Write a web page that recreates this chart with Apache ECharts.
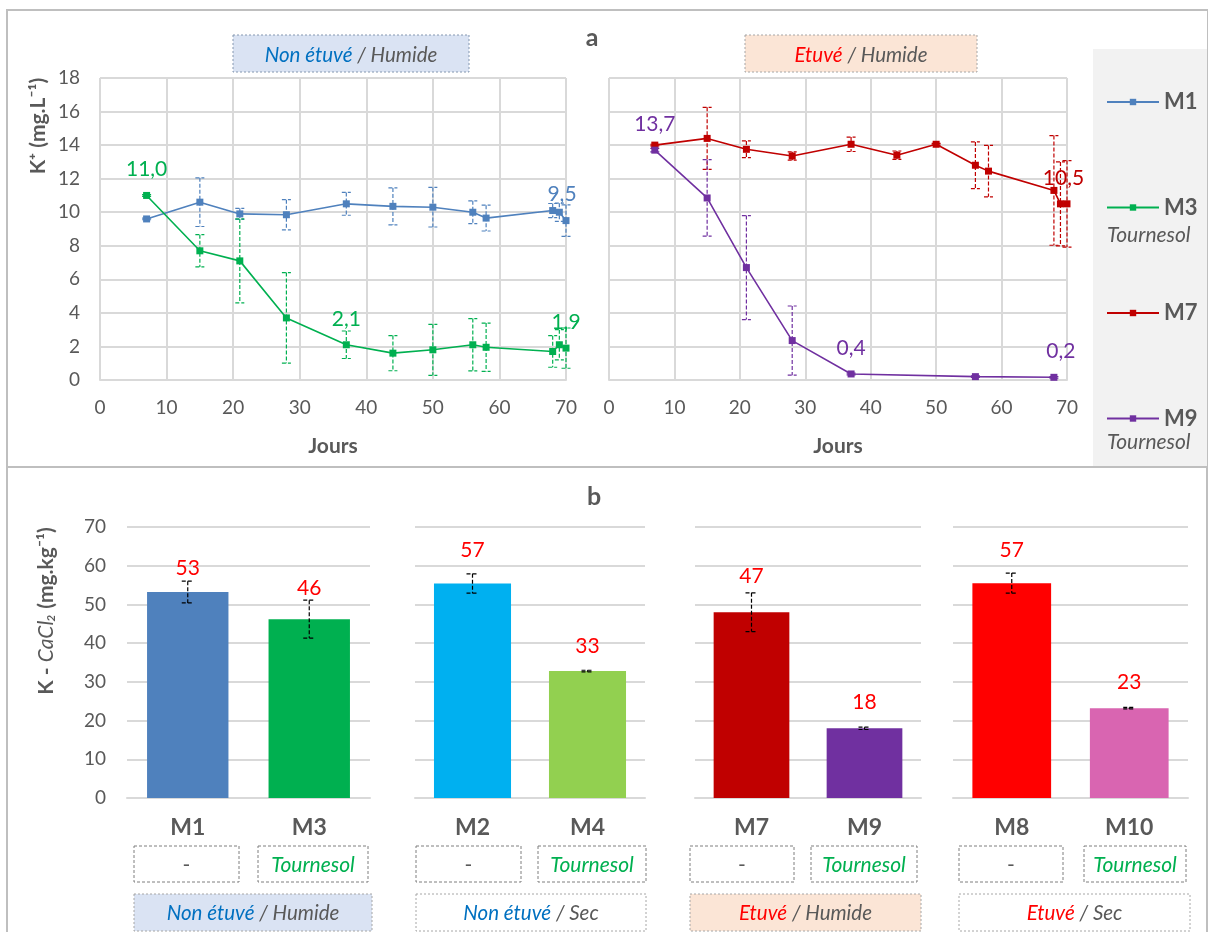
<!DOCTYPE html>
<html>
<head>
<meta charset="utf-8">
<script src="https://cdn.jsdelivr.net/npm/echarts@6/dist/echarts.min.js"></script>
<style>
html,body{margin:0;padding:0;background:#fff;}
#chart{width:1208px;height:932px;}
</style>
</head>
<body>
<div id="chart"></div>
<script>
// ---------- DATA ----------
// Panel a: K+ (mg.L-1) vs days
const daysM1 = [7, 15, 21, 28, 37, 44, 50, 56, 58, 68, 69, 70];
const m1 = [9.6, 10.6, 9.9, 9.85, 10.5, 10.35, 10.3, 10.0, 9.65, 10.1, 10.0, 9.5];
const m1Err = [0.05, 1.45, 0.33, 0.9, 0.68, 1.1, 1.18, 0.68, 0.77, 0.42, 0.54, 0.94];
const m1Labeled = [11];

const daysM3 = [7, 15, 21, 28, 37, 44, 50, 56, 58, 68, 69, 70];
const m3 = [11.0, 7.7, 7.1, 3.7, 2.1, 1.6, 1.8, 2.1, 1.95, 1.7, 2.1, 1.9];
const m3Err = [0.05, 0.96, 2.5, 2.7, 0.82, 1.05, 1.52, 1.56, 1.44, 0.94, 0.9, 1.2];
const m3Labeled = [0, 4, 11];

const daysM7 = [7, 15, 21, 28, 37, 44, 50, 56, 58, 68, 69, 70];
const m7 = [14.0, 14.4, 13.75, 13.35, 14.05, 13.4, 14.05, 12.8, 12.45, 11.3, 10.5, 10.5];
const m7Err = [0.05, 1.85, 0.5, 0.25, 0.43, 0.25, 0.05, 1.39, 1.53, 3.27, 2.5, 2.58];
const m7Labeled = [10];

const daysM9 = [7, 15, 21, 28, 37, 56, 68];
const m9 = [13.7, 10.85, 6.7, 2.35, 0.36, 0.2, 0.16];
const m9Err = [0.1, 2.28, 3.1, 2.06, 0.05, 0.05, 0.05];
const m9Labeled = [0, 4, 6];

const xTicksA = [0, 70, 10];   // min, max, interval
const yTicksA = [0, 18, 2];

// Panel b: K - CaCl2 (mg.kg-1)
const barCats = [['M1', 'M3'], ['M2', 'M4'], ['M7', 'M9'], ['M8', 'M10']];
const barVals = [[53.2, 46.2], [55.4, 32.8], [48.0, 18.0], [55.5, 23.2]];
const barErrs = [[2.8, 4.9], [2.5, 0.2], [5.0, 0.3], [2.6, 0.2]];
const barLabels = [['53', '46'], ['57', '33'], ['47', '18'], ['57', '23']];
const amendment = [['-', 'Tournesol'], ['-', 'Tournesol'], ['-', 'Tournesol'], ['-', 'Tournesol']];
const groupTreat = [['Non étuvé', 'Humide'], ['Non étuvé', 'Sec'], ['Etuvé', 'Humide'], ['Etuvé', 'Sec']];
const yTicksB = [0, 70, 10];

// ---------- STYLE / LAYOUT ----------
const FONT = 'Lato, "Open Sans", sans-serif';
const GRAY = '#595959';
const GRID_C = '#d9d9d9';
const colLine = {M1: '#4f81bd', M3: '#00b050', M7: '#c00000', M9: '#7030a0'};
const barColors = [['#4f81bd', '#00b050'], ['#00b0f0', '#92d050'], ['#c00000', '#7030a0'], ['#ff0000', '#d965b1']];
const barLabelGap = [[13, 12], [24, 24], [17, 25], [23, 25]];
const gridsA = [{left: 100, top: 78, width: 466, height: 302}, {left: 609, top: 78, width: 458, height: 302}];
const gridsB = [{left: 127, width: 243}, {left: 415, width: 230}, {left: 695, width: 226}, {left: 953, width: 235}];
const B_TOP = 527, B_H = 271;
const smallBoxes = [[[134, 105], [258, 110]], [[416, 105], [538, 108]], [[690, 104], [811, 106]], [[959, 104], [1084, 102]]];
const groupBoxes = [[134, 238, '#dae3f3'], [416, 230, '#ffffff'], [690, 231, '#fbe5d6'], [959, 231, '#ffffff']];

// ---------- HELPERS ----------
function fmt(v) { return v.toFixed(1).replace('.', ','); }

function lineData(days, vals, labeled, offsets) {
  return days.map((d, i) => {
    const item = {value: [d, vals[i]]};
    if (labeled.includes(i)) {
      item.label = {show: true};
      if (offsets && offsets[i]) item.label.offset = offsets[i];
    }
    return item;
  });
}

function errRenderer(color, capHalf) {
  return function (params, api) {
    const x = api.value(0), y = api.value(1), e = api.value(2);
    const t = api.coord([x, y + e]);
    const b = api.coord([x, y - e]);
    const st = {stroke: color, lineWidth: 1.2, lineDash: [4, 2]};
    return {
      type: 'group',
      children: [
        {type: 'line', shape: {x1: t[0], y1: t[1], x2: b[0], y2: b[1]}, style: st},
        {type: 'line', shape: {x1: t[0] - capHalf, y1: t[1], x2: t[0] + capHalf, y2: t[1]}, style: st},
        {type: 'line', shape: {x1: b[0] - capHalf, y1: b[1], x2: b[0] + capHalf, y2: b[1]}, style: st}
      ]
    };
  };
}

function lineSeries(name, days, vals, labeled, idx, offsets) {
  return {
    type: 'line', name: name, xAxisIndex: idx, yAxisIndex: idx,
    data: lineData(days, vals, labeled, offsets),
    symbol: 'rect', symbolSize: 7,
    lineStyle: {color: colLine[name], width: 1.6},
    itemStyle: {color: colLine[name]},
    label: {show: false, position: 'top', distance: 12, color: colLine[name],
      fontSize: 21, fontFamily: FONT, formatter: p => fmt(p.value[1])},
    z: 3, animation: false
  };
}

function errSeries(days, vals, errs, color, idx) {
  return {
    type: 'custom', xAxisIndex: idx, yAxisIndex: idx,
    data: days.map((d, i) => [d, vals[i], errs[i]]),
    renderItem: errRenderer(color, 4.5), z: 2, silent: true, animation: false
  };
}

// ---------- AXES ----------
const xAxes = [], yAxes = [], grids = [];
gridsA.forEach((g, i) => {
  grids.push(Object.assign({containLabel: false}, g));
  xAxes.push({
    type: 'value', gridIndex: i, min: xTicksA[0], max: xTicksA[1], interval: xTicksA[2],
    name: 'Jours', nameLocation: 'middle', nameGap: 56,
    nameTextStyle: {fontSize: 21, fontWeight: 'bold', color: GRAY, fontFamily: FONT},
    axisLine: {show: true, lineStyle: {color: GRID_C, width: 2}},
    axisTick: {show: false},
    axisLabel: {fontSize: 19, color: GRAY, fontFamily: FONT, margin: 18},
    splitLine: {show: true, lineStyle: {color: GRID_C, width: 2}}
  });
  yAxes.push({
    type: 'value', gridIndex: i, min: yTicksA[0], max: yTicksA[1], interval: yTicksA[2],
    axisLine: {show: false}, axisTick: {show: false},
    axisLabel: {show: i === 0, fontSize: 19, color: GRAY, fontFamily: FONT, margin: 20},
    splitLine: {show: true, lineStyle: {color: GRID_C, width: 2}}
  });
});
gridsB.forEach((g, k) => {
  const gi = 2 + k;
  grids.push({left: g.left, width: g.width, top: B_TOP, height: B_H});
  xAxes.push({
    type: 'category', gridIndex: gi, data: barCats[k],
    axisLine: {show: true, lineStyle: {color: GRID_C, width: 2}},
    axisTick: {show: false},
    axisLabel: {fontSize: 23, fontWeight: 'bold', color: GRAY, fontFamily: FONT, margin: 18},
    splitLine: {show: false}
  });
  yAxes.push({
    type: 'value', gridIndex: gi, min: yTicksB[0], max: yTicksB[1], interval: yTicksB[2],
    axisLine: {show: false}, axisTick: {show: false},
    axisLabel: {show: k === 0, fontSize: 19, color: GRAY, fontFamily: FONT, margin: 21},
    splitLine: {show: true, lineStyle: {color: GRID_C, width: 2}}
  });
});

// ---------- SERIES ----------
const series = [
  errSeries(daysM1, m1, m1Err, colLine.M1, 0),
  errSeries(daysM3, m3, m3Err, colLine.M3, 0),
  errSeries(daysM7, m7, m7Err, colLine.M7, 1),
  errSeries(daysM9, m9, m9Err, colLine.M9, 1),
  lineSeries('M1', daysM1, m1, m1Labeled, 0, {11: [-4, 0]}),
  lineSeries('M3', daysM3, m3, m3Labeled, 0),
  lineSeries('M7', daysM7, m7, m7Labeled, 1, {10: [3, 0]}),
  lineSeries('M9', daysM9, m9, m9Labeled, 1, {6: [7, 0]})
];

barCats.forEach((cats, k) => {
  const gi = 2 + k;
  series.push({
    type: 'bar', xAxisIndex: gi, yAxisIndex: gi, barWidth: '67%',
    data: barVals[k].map((v, i) => ({value: v, itemStyle: {color: barColors[k][i]}})),
    animation: false
  });
  series.push({
    type: 'custom', xAxisIndex: gi, yAxisIndex: gi,
    data: barVals[k].map((v, i) => [i, v, barErrs[k][i]]),
    renderItem: function (params, api) {
      const x = api.value(0), y = api.value(1), e = api.value(2);
      const t = api.coord([x, y + e]);
      const b = api.coord([x, y - e]);
      const st = {stroke: '#000', lineWidth: 1.2, lineDash: [4, 2]};
      const cap = 6;
      const txt = barLabels[k][params.dataIndex];
      const gap = barLabelGap[k][params.dataIndex];
      return {
        type: 'group',
        children: [
          {type: 'line', shape: {x1: t[0], y1: t[1], x2: b[0], y2: b[1]}, style: st},
          {type: 'line', shape: {x1: t[0] - cap, y1: t[1], x2: t[0] + cap, y2: t[1]}, style: st},
          {type: 'line', shape: {x1: b[0] - cap, y1: b[1], x2: b[0] + cap, y2: b[1]}, style: st},
          {type: 'text', style: {x: t[0], y: t[1] - gap, text: txt, fill: '#ff0000',
            font: '21px ' + FONT, align: 'center', verticalAlign: 'middle'}}
        ]
      };
    },
    z: 3, silent: true, animation: false
  });
});

// ---------- GRAPHIC (frames, titles, boxes) ----------
const graphic = [];
graphic.push({type: 'rect', shape: {x: 7, y: 10, width: 1201, height: 457}, style: {fill: 'none', stroke: '#bfbfbf', lineWidth: 2}, z: 0});
graphic.push({type: 'rect', shape: {x: 7, y: 467, width: 1200, height: 470}, style: {fill: 'none', stroke: '#bfbfbf', lineWidth: 2}, z: 0});
graphic.push({type: 'rect', shape: {x: 1093, y: 49, width: 114, height: 418}, style: {fill: '#f2f2f2'}, z: -1});
graphic.push({type: 'text', style: {x: 1107, y: 235, text: 'Tournesol', fill: GRAY, font: 'italic 21px ' + FONT, verticalAlign: 'middle'}});
graphic.push({type: 'text', style: {x: 1107, y: 442, text: 'Tournesol', fill: GRAY, font: 'italic 21px ' + FONT, verticalAlign: 'middle'}});
graphic.push({type: 'text', style: {x: 592, y: 38, text: 'a', fill: GRAY, font: 'bold 25px ' + FONT, align: 'center', verticalAlign: 'middle'}});
graphic.push({type: 'text', style: {x: 594, y: 497, text: 'b', fill: GRAY, font: 'bold 25px ' + FONT, align: 'center', verticalAlign: 'middle'}});

const TS = 20.5;
const richTreat = {
  t1: {fontFamily: FONT, fontSize: TS, fontStyle: 'italic', fill: '#0070c0', color: '#0070c0'},
  t2: {fontFamily: FONT, fontSize: TS, fontStyle: 'italic', fill: '#ff0000', color: '#ff0000'},
  g: {fontFamily: FONT, fontSize: TS, fontStyle: 'italic', fill: GRAY, color: GRAY}
};
function treatText(pair) {
  const key = pair[0] === 'Etuvé' ? 't2' : 't1';
  return '{' + key + '|' + pair[0] + '}{g| / ' + pair[1] + '}';
}
graphic.push({type: 'rect', shape: {x: 233, y: 35, width: 236, height: 37}, style: {fill: '#dae3f3', stroke: '#8497b0', lineWidth: 1, lineDash: [2, 2]}});
graphic.push({type: 'text', style: {x: 351, y: 55, text: treatText(['Non étuvé', 'Humide']), rich: richTreat, align: 'center', verticalAlign: 'middle'}});
graphic.push({type: 'rect', shape: {x: 745, y: 35, width: 232, height: 37}, style: {fill: '#fbe5d6', stroke: '#a6a6a6', lineWidth: 1, lineDash: [2, 2]}});
graphic.push({type: 'text', style: {x: 861, y: 55, text: treatText(['Etuvé', 'Humide']), rich: richTreat, align: 'center', verticalAlign: 'middle'}});

graphic.push({type: 'text', x: 38, y: 126, rotation: Math.PI / 2,
  style: {x: 0, y: 0, text: 'K⁺ (mg.L⁻¹)', fill: GRAY, font: 'bold 21px ' + FONT, align: 'center', verticalAlign: 'middle'}});
graphic.push({type: 'text', x: 46, y: 611, rotation: Math.PI / 2,
  style: {x: 0, y: 0, text: '{b|K - }{i|CaCl₂}{b| (mg.kg⁻¹)}', align: 'center', verticalAlign: 'middle',
    rich: {b: {fontFamily: FONT, fontSize: 21, fontWeight: 'bold', fill: GRAY, color: GRAY},
           i: {fontFamily: FONT, fontSize: 21, fontStyle: 'italic', fill: GRAY, color: GRAY}}}});

smallBoxes.forEach((grp, k) => {
  grp.forEach((bx, i) => {
    graphic.push({type: 'rect', shape: {x: bx[0], y: 846, width: bx[1], height: 36},
      style: {fill: '#fff', stroke: '#7f7f7f', lineWidth: 1, lineDash: [3, 2]}});
    const isT = amendment[k][i] === 'Tournesol';
    graphic.push({type: 'text', style: {x: bx[0] + bx[1] / 2, y: 865, text: amendment[k][i],
      fill: isT ? '#00b050' : GRAY, font: (isT ? 'italic ' : '') + '21px ' + FONT, align: 'center', verticalAlign: 'middle'}});
  });
});
groupBoxes.forEach((gb, k) => {
  graphic.push({type: 'rect', shape: {x: gb[0], y: 894, width: gb[1], height: 37},
    style: {fill: gb[2], stroke: '#a6a6a6', lineWidth: 1, lineDash: [2, 2]}});
  graphic.push({type: 'text', style: {x: gb[0] + gb[1] / 2, y: 913, text: treatText(groupTreat[k]), rich: richTreat,
    align: 'center', verticalAlign: 'middle'}});
});

// ---------- OPTION ----------
const option = {
  backgroundColor: '#ffffff',
  animation: false,
  textStyle: {fontFamily: FONT},
  grid: grids,
  xAxis: xAxes,
  yAxis: yAxes,
  legend: {
    orient: 'vertical', left: 1106, top: 90, padding: 0,
    itemWidth: 52, itemHeight: 8, itemGap: 81.5,
    data: ['M1', 'M3', 'M7', 'M9'],
    textStyle: {fontSize: 22, fontWeight: 'bold', color: GRAY, fontFamily: FONT, lineHeight: 24},
    selectedMode: false
  },
  graphic: graphic,
  series: series
};
const chart = echarts.init(document.getElementById('chart'), null, {renderer: 'canvas'});
chart.setOption(option);
</script>
</body>
</html>
